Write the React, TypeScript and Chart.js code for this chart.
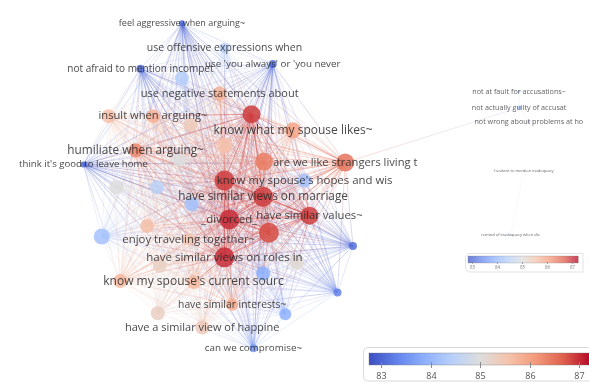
import React, { useEffect, useRef } from "react";
import { Chart, registerables } from "chart.js";

Chart.register(...registerables);

const WIDTH = 589;
const HEIGHT = 382;

// Network items: label, layout position, score (colour) and weight (size)
const nodeLabels = [
  "feel aggressive when arguing~",
  "use offensive expressions when",
  "use 'you always' or 'you never",
  "not afraid to mention incompet",
  "",
  "use negative statements about",
  "insult when arguing~",
  "",
  "",
  "",
  "know what my spouse likes~",
  "humiliate when arguing~",
  "",
  "",
  "think it's good to leave home",
  "",
  "are we like strangers living t",
  "know my spouse's hopes and wis",
  "",
  "",
  "",
  "have similar views on marriage",
  "",
  "_divorced_",
  "have similar values~",
  "",
  "enjoy traveling together~",
  "",
  "",
  "have similar views on roles in",
  "",
  "",
  "",
  "",
  "know my spouse's current sourc",
  "",
  "",
  "have similar interests~",
  "",
  "",
  "have a similar view of happine",
  "can we compromise~",
  "not at fault for accusations~",
  "not actually guilty of accusat",
  "not wrong about problems at ho",
  "hesitant to mention inadequacy",
  "remind of inadequacy when dis",
];

const nodeX = [
  178, 222, 272, 135, 178, 217, 148, 102, 187, 250,
  293, 130, 222, 175, 76, 263, 347, 305, 222, 110,
  152, 262, 188, 227, 310, 268, 185, 95, 142, 222,
  297, 262, 155, 355, 190, 114, 339, 230, 285, 153,
  199, 252, 527, 527, 537, 532, 518,
];

const nodeY = [
  14, 40, 57, 62, 72, 88, 112, 112, 121, 110,
  127, 148, 143, 158, 163, 160, 161, 180, 180, 187,
  187, 197, 205, 221, 217, 235, 242, 239, 228, 261,
  267, 278, 270, 249, 287, 286, 298, 311, 321, 320,
  335, 357, 86, 103, 118, 170, 237,
];

const nodeScore = [
  83.0, 84.4, 83.1, 83.1, 84.4, 85.8, 85.8, 85.6, 85.4, 86.9,
  86.0, 86.3, 85.6, 85.0, 83.0, 86.4, 86.5, 84.2, 86.9, 85.0,
  84.5, 86.9, 84.2, 87.0, 86.9, 86.8, 85.5, 84.2, 85.6, 87.0,
  85.1, 83.9, 85.3, 83.1, 85.7, 85.7, 83.3, 85.9, 83.9, 85.3,
  85.4, 83.6, 84.6, 84.2, 84.6, 84.5, 84.5,
];

const nodeRadius = [
  3, 5, 4, 4, 7, 7, 7, 7, 7, 9,
  8, 7, 8, 7, 3, 9, 9, 7, 10, 7,
  7, 10, 7, 10, 9, 10, 6, 8, 7, 10,
  7, 7, 7, 4, 7, 7, 4, 6, 6, 7,
  7, 4, 1.5, 2, 1.5, 0.8, 0.8,
];

const labelSize = [
  9, 10.5, 9.8, 10, 0, 11, 11.2, 0, 0, 0,
  12, 11.8, 0, 0, 9.6, 0, 11.2, 11.4, 0, 0,
  0, 11.8, 0, 11.4, 11.3, 0, 11.4, 0, 0, 11.5,
  0, 0, 0, 0, 12, 0, 0, 10.3, 0, 0,
  11, 9.8, 7.2, 7.2, 7.2, 4, 4,
];

// The first CORE_COUNT items form the densely linked main cluster
const CORE_COUNT = 42;
const extraLinks: [number, number][] = [
  [16, 43],
  [42, 43],
  [43, 44],
  [45, 46],
];

const colorTicks = [83, 84, 85, 86, 87];
const COLOR_MIN = 82.75;
const COLOR_MAX = 87.25;

const coolwarmStops = [
  [59, 76, 192],
  [98, 130, 234],
  [141, 176, 254],
  [184, 208, 249],
  [221, 221, 221],
  [245, 196, 173],
  [244, 154, 123],
  [222, 96, 77],
  [180, 4, 38],
];

function coolwarm(v: number): number[] {
  let t = (v - COLOR_MIN) / (COLOR_MAX - COLOR_MIN);
  t = Math.max(0, Math.min(1, t));
  const p = t * (coolwarmStops.length - 1);
  const i = Math.min(Math.floor(p), coolwarmStops.length - 2);
  const f = p - i;
  const a = coolwarmStops[i];
  const b = coolwarmStops[i + 1];
  return [0, 1, 2].map((k) => Math.round(a[k] + (b[k] - a[k]) * f));
}

function rgba(c: number[], a: number) {
  return `rgba(${c[0]},${c[1]},${c[2]},${a})`;
}

function linkList(): [number, number][] {
  const links: [number, number][] = [];
  for (let i = 0; i < CORE_COUNT; i++) {
    for (let j = i + 1; j < CORE_COUNT; j++) links.push([i, j]);
  }
  return links.concat(extraLinks);
}

// Warm ends make a link stronger; cool ends keep it faint
function linkAlpha(a: number, b: number) {
  const warm = (Math.max(0, nodeScore[a] - 85) + Math.max(0, nodeScore[b] - 85)) / 4;
  const cool = (Math.max(0, 85 - nodeScore[a]) + Math.max(0, 85 - nodeScore[b])) / 4;
  return 0.12 + 0.32 * warm + 0.06 * cool;
}

const networkPlugin = {
  id: "networkLinksAndLabels",
  beforeDatasetsDraw(chart: any) {
    const { ctx, scales } = chart;
    const xs = scales.x;
    const ys = scales.y;
    const px = (i: number) => xs.getPixelForValue(nodeX[i]);
    const py = (i: number) => ys.getPixelForValue(nodeY[i]);
    ctx.save();
    // links, shaded from one end's colour to the other's
    ctx.lineWidth = 1;
    for (const [a, b] of linkList()) {
      const x1 = px(a), y1 = py(a), x2 = px(b), y2 = py(b);
      const ca = coolwarm(nodeScore[a]);
      const cb = coolwarm(nodeScore[b]);
      const alpha = linkAlpha(a, b);
      const g = ctx.createLinearGradient(x1, y1, x2, y2);
      g.addColorStop(0, rgba(ca, alpha));
      g.addColorStop(1, rgba(cb, alpha));
      ctx.strokeStyle = g;
      ctx.beginPath();
      ctx.moveTo(x1, y1);
      ctx.lineTo(x2, y2);
      ctx.stroke();
    }
    ctx.restore();
  },
  afterDatasetsDraw(chart: any) {
    const { ctx, scales } = chart;
    ctx.save();
    // item labels, written over the circles
    ctx.textAlign = "center";
    ctx.textBaseline = "middle";
    nodeLabels.forEach((label, i) => {
      if (!label) return;
      const size = labelSize[i];
      ctx.font = `${size}px "Open Sans"`;
      ctx.fillStyle = size < 8 ? "rgba(70,70,70,0.85)" : "rgba(40,40,40,0.85)";
      ctx.fillText(
        label,
        scales.x.getPixelForValue(nodeX[i]),
        scales.y.getPixelForValue(nodeY[i])
      );
    });
    ctx.restore();
  },
  afterDraw(chart: any) {
    const { ctx } = chart;
    ctx.save();
    drawColorBar(ctx, {
      boxX: 363, boxY: 347, boxW: 240, boxH: 34,
      barX: 369, barY: 353, barH: 12,
      x83: 381, unit: 49.5, font: 9, labelY: 376, tickLen: 6,
    });
    ctx.globalAlpha = 0.75;
    drawColorBar(ctx, {
      boxX: 465, boxY: 253, boxW: 118, boxH: 19,
      barX: 468, barY: 256, barH: 7,
      x83: 472, unit: 25, font: 4.5, labelY: 268, tickLen: 2,
    });
    ctx.restore();
  },
};

function drawColorBar(ctx: CanvasRenderingContext2D, o: any) {
  const v2x = (v: number) => o.x83 + (v - 83) * o.unit;
  // frame
  ctx.fillStyle = "#ffffff";
  ctx.strokeStyle = "#d9d9d9";
  ctx.lineWidth = 1;
  const r = 5;
  ctx.beginPath();
  ctx.moveTo(o.boxX + r, o.boxY + 0.5);
  ctx.lineTo(o.boxX + o.boxW, o.boxY + 0.5);
  ctx.lineTo(o.boxX + o.boxW, o.boxY + o.boxH);
  ctx.lineTo(o.boxX + 0.5 + r, o.boxY + o.boxH);
  ctx.quadraticCurveTo(o.boxX + 0.5, o.boxY + o.boxH, o.boxX + 0.5, o.boxY + o.boxH - r);
  ctx.lineTo(o.boxX + 0.5, o.boxY + 0.5 + r);
  ctx.quadraticCurveTo(o.boxX + 0.5, o.boxY + 0.5, o.boxX + r, o.boxY + 0.5);
  ctx.fill();
  ctx.stroke();
  // gradient bar
  const x0 = o.barX;
  const x1 = v2x(COLOR_MAX);
  const g = ctx.createLinearGradient(v2x(COLOR_MIN), 0, x1, 0);
  coolwarmStops.forEach((c, i) => {
    g.addColorStop(i / (coolwarmStops.length - 1), rgba(c, 1));
  });
  ctx.fillStyle = g;
  ctx.fillRect(x0, o.barY, x1 - x0, o.barH);
  ctx.strokeStyle = "rgba(120,120,120,0.6)";
  ctx.lineWidth = 0.6;
  ctx.strokeRect(x0, o.barY, x1 - x0, o.barH);
  // ticks and labels
  ctx.strokeStyle = "#8a8a8a";
  ctx.lineWidth = 1;
  ctx.fillStyle = "#555555";
  ctx.font = `${o.font}px "Open Sans"`;
  ctx.textAlign = "center";
  ctx.textBaseline = "middle";
  colorTicks.forEach((t) => {
    const x = Math.round(v2x(t)) + 0.5;
    ctx.beginPath();
    ctx.moveTo(x, o.barY + o.barH - o.tickLen / 2);
    ctx.lineTo(x, o.barY + o.barH + o.tickLen / 2);
    ctx.stroke();
    ctx.fillText(String(t), x, o.labelY);
  });
}

export default function App() {
  const canvasRef = useRef<HTMLCanvasElement | null>(null);

  useEffect(() => {
    document.body.style.margin = "0";
    const canvas = canvasRef.current;
    if (!canvas) return;
    const chart = new Chart(canvas, {
      type: "bubble",
      data: {
        datasets: [
          {
            data: nodeX.map((x, i) => ({ x, y: nodeY[i], r: nodeRadius[i] })),
            backgroundColor: nodeScore.map((s) => rgba(coolwarm(s), 0.85)),
            borderWidth: 0,
            hoverRadius: 0,
          },
        ],
      },
      options: {
        responsive: false,
        animation: false,
        events: [],
        layout: { padding: 0 },
        plugins: { legend: { display: false }, tooltip: { enabled: false } },
        scales: {
          x: { type: "linear", min: 0, max: WIDTH, display: false },
          y: { type: "linear", min: 0, max: HEIGHT, reverse: true, display: false },
        },
      },
      plugins: [networkPlugin],
    });
    return () => chart.destroy();
  }, []);

  return (
    <div style={{ width: WIDTH, height: HEIGHT, background: "#ffffff" }}>
      <canvas ref={canvasRef} width={WIDTH} height={HEIGHT} />
    </div>
  );
}
